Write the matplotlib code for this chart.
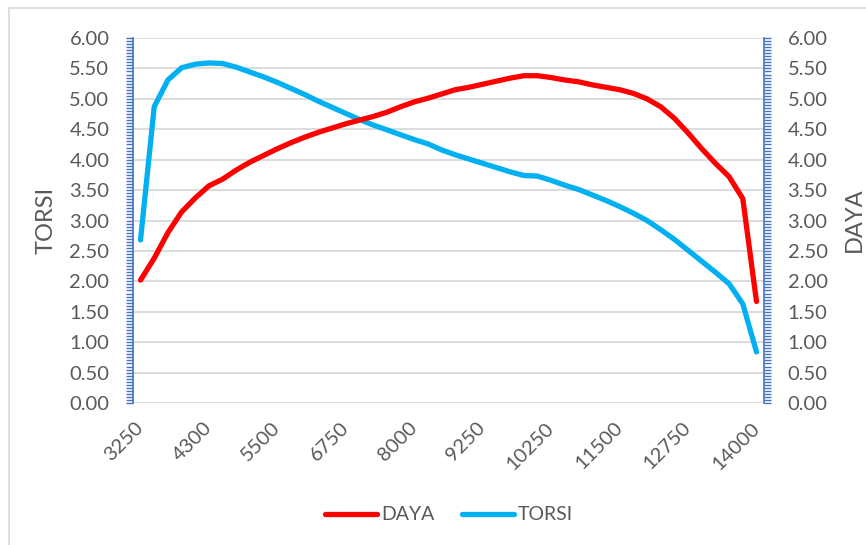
import numpy as np
import matplotlib.pyplot as plt
from matplotlib.lines import Line2D
from matplotlib.ticker import MultipleLocator, FormatStrFormatter

# engine speed (rpm) for each dyno sample
rpm = [3250, 3500, 3750, 4000, 4150, 4300, 4550, 4800, 5000, 5250,
       5500, 5750, 6000, 6250, 6500, 6750, 7000, 7250, 7500, 7750,
       8000, 8250, 8500, 8750, 9000, 9250, 9500, 9750, 9900, 10000,
       10250, 10500, 10750, 11000, 11250, 11500, 11750, 12000, 12250, 12500,
       12750, 13000, 13250, 13500, 13750, 14000]

# power
daya = [2.02, 2.38, 2.80, 3.14, 3.37, 3.57, 3.68, 3.83, 3.96, 4.07,
        4.18, 4.28, 4.37, 4.45, 4.52, 4.59, 4.65, 4.71, 4.78, 4.87,
        4.95, 5.01, 5.08, 5.15, 5.19, 5.24, 5.29, 5.34, 5.38, 5.38,
        5.35, 5.31, 5.28, 5.23, 5.19, 5.15, 5.09, 5.00, 4.87, 4.68,
        4.44, 4.18, 3.94, 3.72, 3.36, 1.67]

# torque
torsi = [2.68, 4.87, 5.31, 5.51, 5.57, 5.59, 5.58, 5.52, 5.44, 5.36,
         5.27, 5.17, 5.07, 4.96, 4.86, 4.76, 4.66, 4.57, 4.49, 4.41,
         4.33, 4.26, 4.16, 4.08, 4.01, 3.94, 3.87, 3.80, 3.74, 3.73,
         3.66, 3.58, 3.51, 3.42, 3.33, 3.23, 3.12, 3.00, 2.85, 2.69,
         2.51, 2.33, 2.15, 1.96, 1.63, 0.84]

plt.rcParams['font.family'] = ['Lato', 'DejaVu Sans']
TEXT = '#595959'
GRID = '#D9D9D9'
AXIS_BLUE = '#4472C4'

W, H = 866, 545
fig = plt.figure(figsize=(W / 100, H / 100), dpi=100)
ax = fig.add_axes([133 / W, 1 - 403 / H, (764 - 133) / W, (403 - 38) / H])
ax2 = ax.twinx()

x = np.arange(len(rpm))
l_daya, = ax2.plot(x, daya, color='#FF0000', lw=3.8,
                   solid_capstyle='round', solid_joinstyle='round', label='DAYA')
l_torsi, = ax.plot(x, torsi, color='#00B0F0', lw=3.8,
                   solid_capstyle='round', solid_joinstyle='round', label='TORSI')

ax.set_xlim(-0.55, len(rpm) - 0.45)
ax.set_xticks(x[::5])
ax.set_xticklabels([str(r) for r in rpm[::5]], rotation=45, ha='right',
                   va='center', rotation_mode='anchor')
ax.tick_params(axis='x', length=0, pad=16, labelsize=14.5, labelcolor=TEXT)

for a, side in ((ax, 'left'), (ax2, 'right')):
    a.set_ylim(0, 6)
    a.yaxis.set_major_locator(MultipleLocator(0.5))
    a.yaxis.set_minor_locator(MultipleLocator(0.05))
    a.yaxis.set_major_formatter(FormatStrFormatter('%.2f'))
    a.tick_params(axis='y', which='both', direction='out', length=5,
                  width=1, color=AXIS_BLUE, labelsize=14.5, labelcolor=TEXT, pad=12)
    for s in a.spines.values():
        s.set_visible(False)
    a.spines[side].set_visible(True)
    a.spines[side].set_color(AXIS_BLUE)
    a.spines[side].set_linewidth(1.2)

ax.yaxis.grid(True, color=GRID, lw=1.3)
ax.set_axisbelow(True)

fig.text(46 / W, 1 - 220 / H, 'TORSI', rotation=90, ha='center', va='center',
         fontsize=17, color=TEXT)
fig.text(854 / W, 1 - 220 / H, 'DAYA', rotation=90, ha='center', va='center',
         fontsize=17, color=TEXT)

leg = fig.legend([l_daya, l_torsi], ['DAYA', 'TORSI'], loc='center',
                 bbox_to_anchor=(449 / W, 1 - 515 / H), ncol=2, frameon=False,
                 fontsize=14, handlelength=2.7, handletextpad=0.2,
                 columnspacing=1.4, labelcolor=TEXT)
for h in leg.legend_handles:
    h.set_solid_capstyle('round')

# chart frame
fig.add_artist(Line2D([9 / W, 9 / W], [0, 1 - 8 / H], transform=fig.transFigure,
                      color=GRID, lw=1.2))
fig.add_artist(Line2D([9 / W, 1], [1 - 8 / H, 1 - 8 / H], transform=fig.transFigure,
                      color=GRID, lw=1.2))

fig.savefig('out.png', dpi=100)
